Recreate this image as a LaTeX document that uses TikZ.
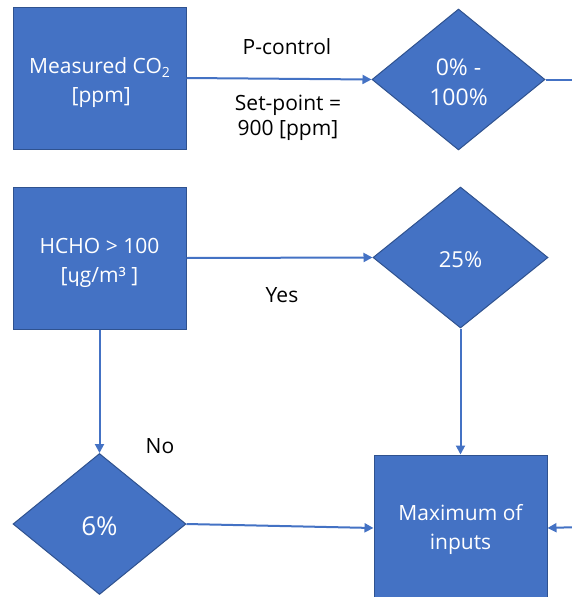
\documentclass[tikz,border=0pt]{standalone}
\usepackage{fontspec}
\setmainfont{Open Sans}
\newfontfamily\ipafont{DejaVu Sans}[Scale=0.92]
\usetikzlibrary{shapes.geometric,arrows.meta}
\definecolor{boxfill}{HTML}{4472C4}
\definecolor{boxedge}{HTML}{2F528F}
% invisible strut that lowers a node's first line
\newcommand\lowerby[1]{\rule{0pt}{#1}}
\begin{document}
\begin{tikzpicture}[x=1pt,y=1pt,
  block/.style={rectangle,draw=boxedge,fill=boxfill,line width=1pt,
    minimum width=173pt,minimum height=142pt,inner sep=0pt,
    text=white,align=center,font=\fontsize{21}{29}\selectfont},
  choice/.style={diamond,draw=boxedge,fill=boxfill,line width=1pt,
    minimum width=173pt,minimum height=141pt,inner sep=0pt,
    text=white,align=center,font=\fontsize{23}{30}\selectfont},
  flow/.style={draw=boxfill,line width=2pt},
  arr/.style={flow,-{Triangle[length=9pt,width=9pt]}},
  lbl/.style={align=center,text=black,font=\fontsize{21}{25}\selectfont}]
  \useasboundingbox (0,0) rectangle (572,-597);

  % controller inputs
  \node[block] (co2) at (99.5,-78) {\lowerby{26pt}Measured CO\raisebox{-0.3ex}{\fontsize{14}{14}\selectfont 2}\\\,[ppm]};
  \node[choice] (prop) at (458.5,-79.5) {\lowerby{22pt}0\% -\\100\%};
  \node[block] (hcho) at (99.5,-258) {\lowerby{25pt}HCHO > 100\\{}[{\ipafont ɥ}g/m³ ]};
  \node[choice,minimum width=175pt,font=\fontsize{22}{29}\selectfont] (high) at (460.5,-257.5) {\lowerby{20pt}25\%};
  \node[choice,font=\fontsize{26}{30}\selectfont] (low) at (99.5,-524) {\lowerby{24pt}6\%};
  \node[block,minimum height=146pt] (maxi) at (460.5,-528) {\lowerby{19pt}Maximum of\\inputs};

  % free line ends leaving the page at the right
  \coordinate (propout) at (580,-79.5);
  \coordinate (maxin) at (580,-527);

  % connectors
  \draw[arr] (co2.east) -- (prop.west);
  \draw[flow] (prop.east) -- (propout);
  \draw[arr] (hcho.east) -- (high.west);
  \draw[arr] (hcho.south) -- (low.north);
  \draw[arr] (high.south) -- (maxi.north);
  \draw[arr] (low.east) -- (maxi.west);
  \draw[arr] (maxin) -- (maxi.east);

  % labels
  \node[lbl] (pctl) at (287,-47) {P-control};
  \node[lbl] (setp) at (288,-118) {Set-point =\\900 [ppm]};
  \node[lbl] (yes) at (282,-295) {Yes};
  \node[lbl] (no) at (160,-446) {No};
\end{tikzpicture}
\end{document}
